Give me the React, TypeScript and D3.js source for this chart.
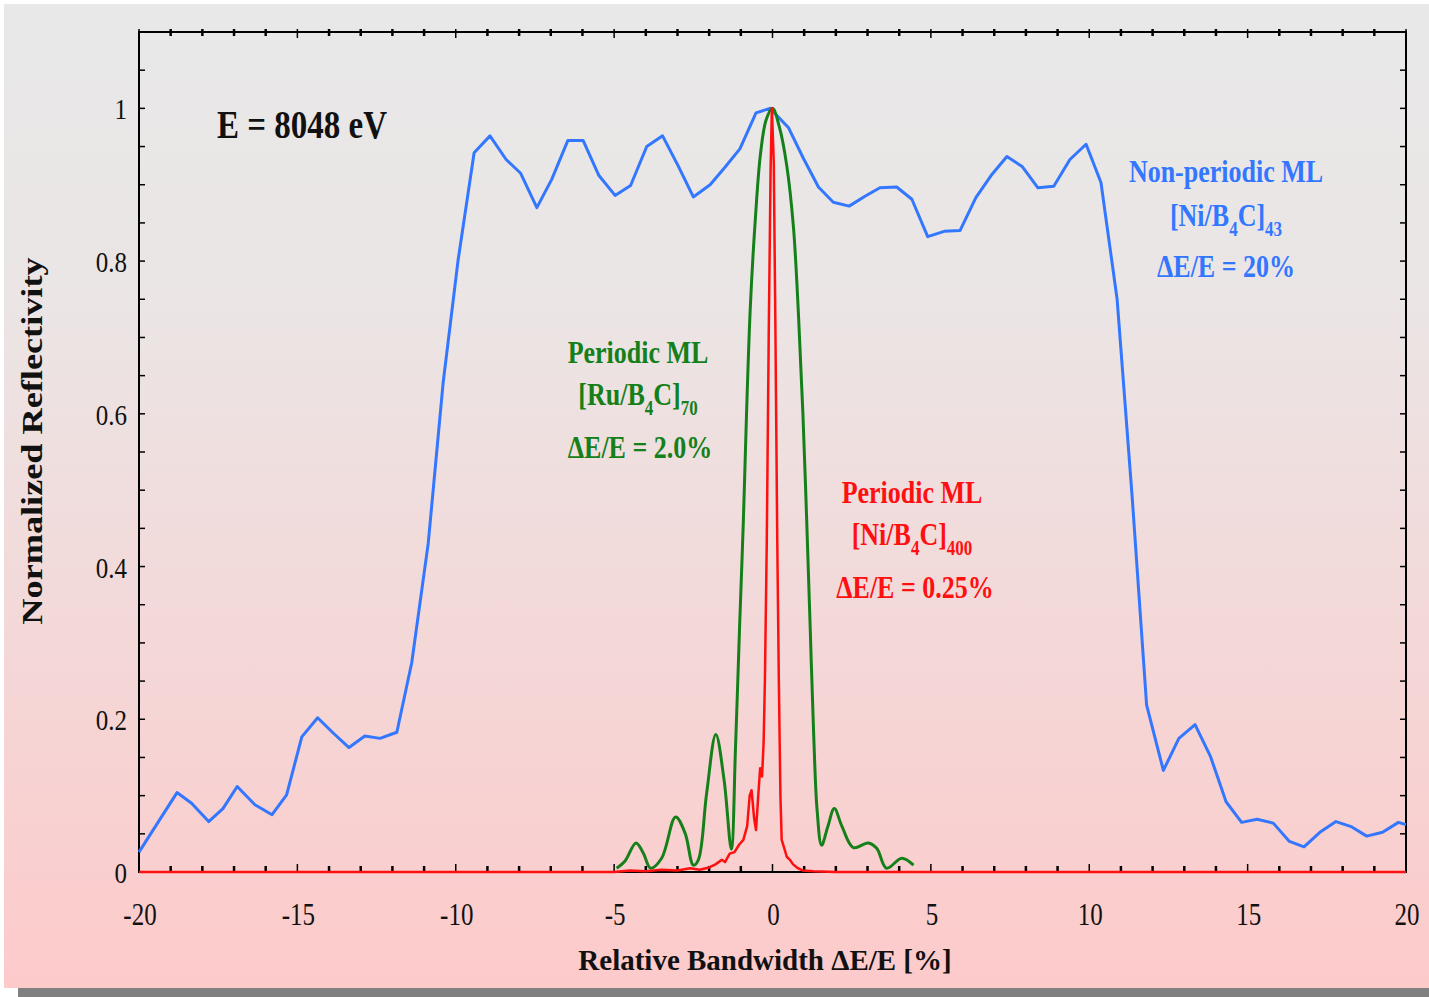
import React from 'react'
import * as d3 from 'd3'

// Non-periodic ML [Ni/B4C]43
const blueX = [-20, -19.4, -18.8, -18.34, -17.8, -17.35, -16.9, -16.34, -15.8, -15.34, -14.86, -14.36, -13.87, -13.37, -12.87, -12.39, -11.86, -11.39, -10.87, -10.4, -9.93, -9.42, -8.92, -8.41, -7.95, -7.44, -6.97, -6.46, -5.98, -5.48, -4.97, -4.48, -3.97, -3.47, -2.97, -2.5, -1.97, -1.5, -1.03, -0.52, -0.08, 0.5, 0.97, 1.45, 1.92, 2.42, 2.92, 3.39, 3.92, 4.4, 4.9, 5.42, 5.92, 6.42, 6.9, 7.4, 7.88, 8.38, 8.88, 9.39, 9.9, 10.37, 10.88, 11.35, 11.81, 12.34, 12.83, 13.34, 13.83, 14.32, 14.81, 15.3, 15.81, 16.32, 16.78, 17.28, 17.79, 18.29, 18.76, 19.26, 19.76, 20]
const blueY = [0.026, 0.065, 0.104, 0.09, 0.066, 0.083, 0.112, 0.088, 0.075, 0.101, 0.177, 0.202, 0.182, 0.163, 0.178, 0.175, 0.183, 0.274, 0.43, 0.64, 0.8, 0.942, 0.964, 0.933, 0.915, 0.87, 0.907, 0.958, 0.958, 0.912, 0.886, 0.899, 0.95, 0.964, 0.924, 0.884, 0.9, 0.923, 0.947, 0.994, 1.0, 0.975, 0.935, 0.897, 0.877, 0.872, 0.885, 0.896, 0.897, 0.881, 0.832, 0.839, 0.84, 0.883, 0.912, 0.937, 0.924, 0.896, 0.898, 0.933, 0.953, 0.903, 0.75, 0.494, 0.219, 0.133, 0.175, 0.193, 0.151, 0.092, 0.065, 0.069, 0.064, 0.04, 0.033, 0.052, 0.066, 0.059, 0.047, 0.052, 0.065, 0.062]

// Periodic ML [Ru/B4C]70
const greenX = [-4.92, -4.66, -4.31, -4.08, -3.85, -3.5, -3.06, -2.76, -2.5, -2.34, -2.08, -1.79, -1.53, -1.3, -1.17, -1.04, -0.92, -0.82, -0.7, -0.55, -0.38, -0.2, 0, 0.22, 0.45, 0.66, 0.82, 0.96, 1.08, 1.19, 1.3, 1.41, 1.55, 1.75, 1.95, 2.2, 2.55, 3.02, 3.29, 3.6, 4.08, 4.45]
const greenY = [0.005, 0.014, 0.038, 0.025, 0.005, 0.018, 0.072, 0.051, 0.009, 0.016, 0.103, 0.18, 0.121, 0.03, 0.16, 0.32, 0.46, 0.6, 0.74, 0.85, 0.94, 0.985, 1.0, 0.975, 0.925, 0.845, 0.73, 0.6, 0.46, 0.32, 0.18, 0.08, 0.035, 0.06, 0.083, 0.059, 0.032, 0.038, 0.031, 0.005, 0.018, 0.009]

// Periodic ML [Ni/B4C]400
const redX = [-20, -5, -4.5, -4, -3.5, -3, -2.6, -2.3, -2.0, -1.8, -1.6, -1.5, -1.35, -1.2, -1.05, -0.92, -0.8, -0.72, -0.66, -0.58, -0.52, -0.45, -0.39, -0.33, -0.28, -0.24, -0.18, -0.12, -0.06, -0.02, 0.04, 0.09, 0.15, 0.2, 0.25, 0.29, 0.38, 0.45, 0.55, 0.65, 0.8, 0.95, 1.3, 2, 20]
const redY = [0, 0, 0.002, 0.001, 0.003, 0.002, 0.005, 0.003, 0.006, 0.01, 0.016, 0.013, 0.024, 0.026, 0.036, 0.042, 0.06, 0.1, 0.107, 0.07, 0.055, 0.1, 0.136, 0.125, 0.17, 0.25, 0.435, 0.7, 0.92, 1.0, 0.93, 0.72, 0.435, 0.25, 0.1, 0.042, 0.03, 0.02, 0.016, 0.01, 0.005, 0.002, 0.001, 0, 0]

const xTickLabels = [-20, -15, -10, -5, 0, 5, 10, 15, 20]
const yTickLabels = [0, 0.2, 0.4, 0.6, 0.8, 1]

const W = 1429
const H = 997
const FONT = '"Liberation Serif", "Times New Roman", serif'
const BLUE = '#3377ff'
const GREEN = '#15801a'
const RED = '#ff1010'

const x = d3.scaleLinear().domain([-20, 20]).range([139, 1406])
const y = d3.scaleLinear().domain([0, 1.1]).range([872, 32])

type Pt = [number, number]
const zip = (xs: number[], ys: number[]): Pt[] => xs.map((v, i) => [v, ys[i]])

const linePath = d3.line<Pt>().x(d => x(d[0])).y(d => y(d[1]))
const smoothPath = d3.line<Pt>().x(d => x(d[0])).y(d => y(d[1])).curve(d3.curveCatmullRom.alpha(0.5))

// stretched text, the original picture is taller than wide
function T({ x: tx, y: ty, size, sy = 1.25, anchor = 'middle', bold = true, fill = '#111', children }: any) {
  return (
    <text
      transform={`translate(${tx},${ty}) scale(1,${sy})`}
      fontFamily={FONT}
      fontSize={size}
      fontWeight={bold ? 'bold' : 'normal'}
      textAnchor={anchor}
      fill={fill}
    >
      {children}
    </text>
  )
}

function Formula({ cx, cy, color, el, period }: { cx: number; cy: number; color: string; el: string; period: string }) {
  return (
    <T x={cx} y={cy} size={26} fill={color}>
      {`[${el}/B`}
      <tspan fontSize={17} dy={8}>4</tspan>
      <tspan dy={-8}>C]</tspan>
      <tspan fontSize={17} dy={8}>{period}</tspan>
    </T>
  )
}

export default function App() {
  const xTicks = d3.range(-20, 21, 1)
  const yTicks = d3.range(0, 1.1001, 0.05)

  return (
    <div style={{ position: 'absolute', left: 0, top: 0 }}>
      <svg width={W} height={H} style={{ display: 'block', background: '#fff' }}>
        <defs>
          <linearGradient id="bg" x1="0" y1="0" x2="0" y2="1">
            <stop offset="0%" stopColor="#e8e8e8" />
            <stop offset="30%" stopColor="#ebe5e5" />
            <stop offset="100%" stopColor="#fdcaca" />
          </linearGradient>
        </defs>
        <rect x={18} y={988} width={W - 18} height={9} fill="#808080" />
        <rect x={4} y={4} width={W - 4} height={984} fill="url(#bg)" />

        {/* frame */}
        <rect x={x(-20)} y={y(1.1)} width={x(20) - x(-20)} height={y(0) - y(1.1)} fill="none" stroke="#000" strokeWidth={2} />

        {xTicks.map(t => {
          const major = t % 5 === 0
          const len = major ? 8 : 6
          return (
            <g key={'xt' + t} stroke="#000" strokeWidth={major ? 1.5 : 2.5}>
              <line x1={x(t)} x2={x(t)} y1={y(0)} y2={y(0) - len} />
              <line x1={x(t)} x2={x(t)} y1={y(1.1) - 3} y2={y(1.1) + len - 2} />
            </g>
          )
        })}
        {yTicks.map((t, i) => (
          <g key={'yt' + i} stroke="#000" strokeWidth={1.5}>
            <line x1={x(-20)} x2={x(-20) + 6} y1={y(t)} y2={y(t)} />
            <line x1={x(20)} x2={x(20) - 6} y1={y(t)} y2={y(t)} />
          </g>
        ))}

        {xTickLabels.map(t => (
          <T key={'xl' + t} x={x(t) + 1} y={925} size={25} sy={1.25} bold={false}>{String(t)}</T>
        ))}
        {yTickLabels.map(t => (
          <T key={'yl' + t} x={127} y={y(t) + 11} size={25} sy={1.2} bold={false} anchor="end">{String(t)}</T>
        ))}

        {/* curves */}
        <path d={linePath(zip(blueX, blueY)) || ''} fill="none" stroke={BLUE} strokeWidth={3} strokeLinejoin="round" />
        <path d={smoothPath(zip(greenX, greenY)) || ''} fill="none" stroke={GREEN} strokeWidth={3} strokeLinejoin="round" />
        <path d={linePath(zip(redX, redY)) || ''} fill="none" stroke={RED} strokeWidth={2.5} strokeLinejoin="round" />

        {/* annotations */}
        <T x={217} y={138} size={33} sy={1.22} anchor="start">E = 8048 eV</T>

        <T x={1226} y={182} size={26} fill={BLUE}>Non-periodic ML</T>
        <Formula cx={1226} cy={226} color={BLUE} el="Ni" period="43" />
        <T x={1226} y={277} size={26} fill={BLUE}>ΔE/E = 20%</T>

        <T x={638} y={363} size={26} fill={GREEN}>Periodic ML</T>
        <Formula cx={638} cy={405} color={GREEN} el="Ru" period="70" />
        <T x={640} y={458} size={26} fill={GREEN}>ΔE/E = 2.0%</T>

        <T x={912} y={503} size={26} fill={RED}>Periodic ML</T>
        <Formula cx={912} cy={545} color={RED} el="Ni" period="400" />
        <T x={915} y={598} size={26} fill={RED}>ΔE/E = 0.25%</T>

        {/* axis titles */}
        <T x={765} y={970} size={29} sy={1.05}>Relative Bandwidth ΔE/E [%]</T>
        <text
          transform="translate(42,441) rotate(-90) scale(1.25,1)"
          fontFamily={FONT}
          fontSize={29}
          fontWeight="bold"
          textAnchor="middle"
          fill="#111"
        >
          Normalized Reflectivity
        </text>
      </svg>
    </div>
  )
}
